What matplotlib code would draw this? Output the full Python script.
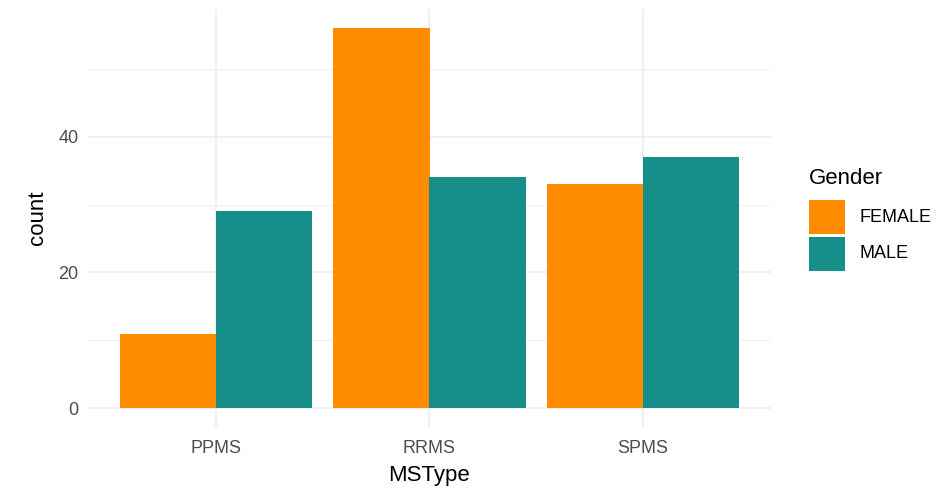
import matplotlib
matplotlib.use("Agg")
import matplotlib.pyplot as plt
from matplotlib.patches import Rectangle
import numpy as np

# counts
ms_types = ["PPMS", "RRMS", "SPMS"]
genders = ["FEMALE", "MALE"]
female_counts = [11, 56, 33]
male_counts = [29, 34, 37]
y_ticks = [0, 20, 40]

COLORS = {"FEMALE": "#FF8C00", "MALE": "#168F8A"}
GRID = "#EBEBEB"
W, H = 937, 492

plt.rcParams["font.family"] = ["Liberation Sans", "DejaVu Sans"]

fig = plt.figure(figsize=(W / 100, H / 100), dpi=100)
ax = fig.add_axes([88 / W, 1 - 427.5 / H, (771 - 88) / W, (427.5 - 8.7) / H])

x = np.arange(len(ms_types)) + 1
w = 0.45
ax.bar(x - w / 2, female_counts, width=w, color=COLORS["FEMALE"], linewidth=0, zorder=3)
ax.bar(x + w / 2, male_counts, width=w, color=COLORS["MALE"], linewidth=0, zorder=3)

ymax = max(max(female_counts), max(male_counts))
ax.set_xlim(0.4, len(ms_types) + 0.6)
ax.set_ylim(-0.05 * ymax, ymax * 1.05)

ax.set_xticks(x)
ax.set_xticklabels(ms_types)
ax.set_yticks(y_ticks)
ax.set_yticks([10, 30, 50], minor=True)

ax.grid(True, which="major", color=GRID, linewidth=1.1, zorder=0)
ax.grid(True, which="minor", axis="y", color=GRID, linewidth=0.6, zorder=0)
ax.set_axisbelow(True)
for s in ax.spines.values():
    s.set_visible(False)

ax.tick_params(axis="both", which="both", length=0, labelsize=13, labelcolor="#4D4D4D")
ax.tick_params(axis="x", pad=9)
ax.tick_params(axis="y", pad=7)

ax.set_xlabel("MSType", fontsize=16, color="black", labelpad=6)
ax.set_ylabel("count", fontsize=16, color="black", labelpad=7)

# legend drawn by hand (ggplot-style keys), positions in pixels from top-left
fig.text(809 / W, 1 - 178 / H, "Gender", fontsize=16, ha="left", va="center")
key_w, key_h, key_gap = 36, 33, 4
for i, g in enumerate(genders):
    top = 200.5 + i * (key_h + key_gap)
    fig.add_artist(Rectangle((809 / W, 1 - (top + key_h) / H), key_w / W, key_h / H,
                             transform=fig.transFigure, facecolor=COLORS[g],
                             edgecolor="none"))
    fig.text(860 / W, 1 - (top + key_h / 2) / H, g, fontsize=13, ha="left", va="center")

fig.savefig("out.png", dpi=100)
